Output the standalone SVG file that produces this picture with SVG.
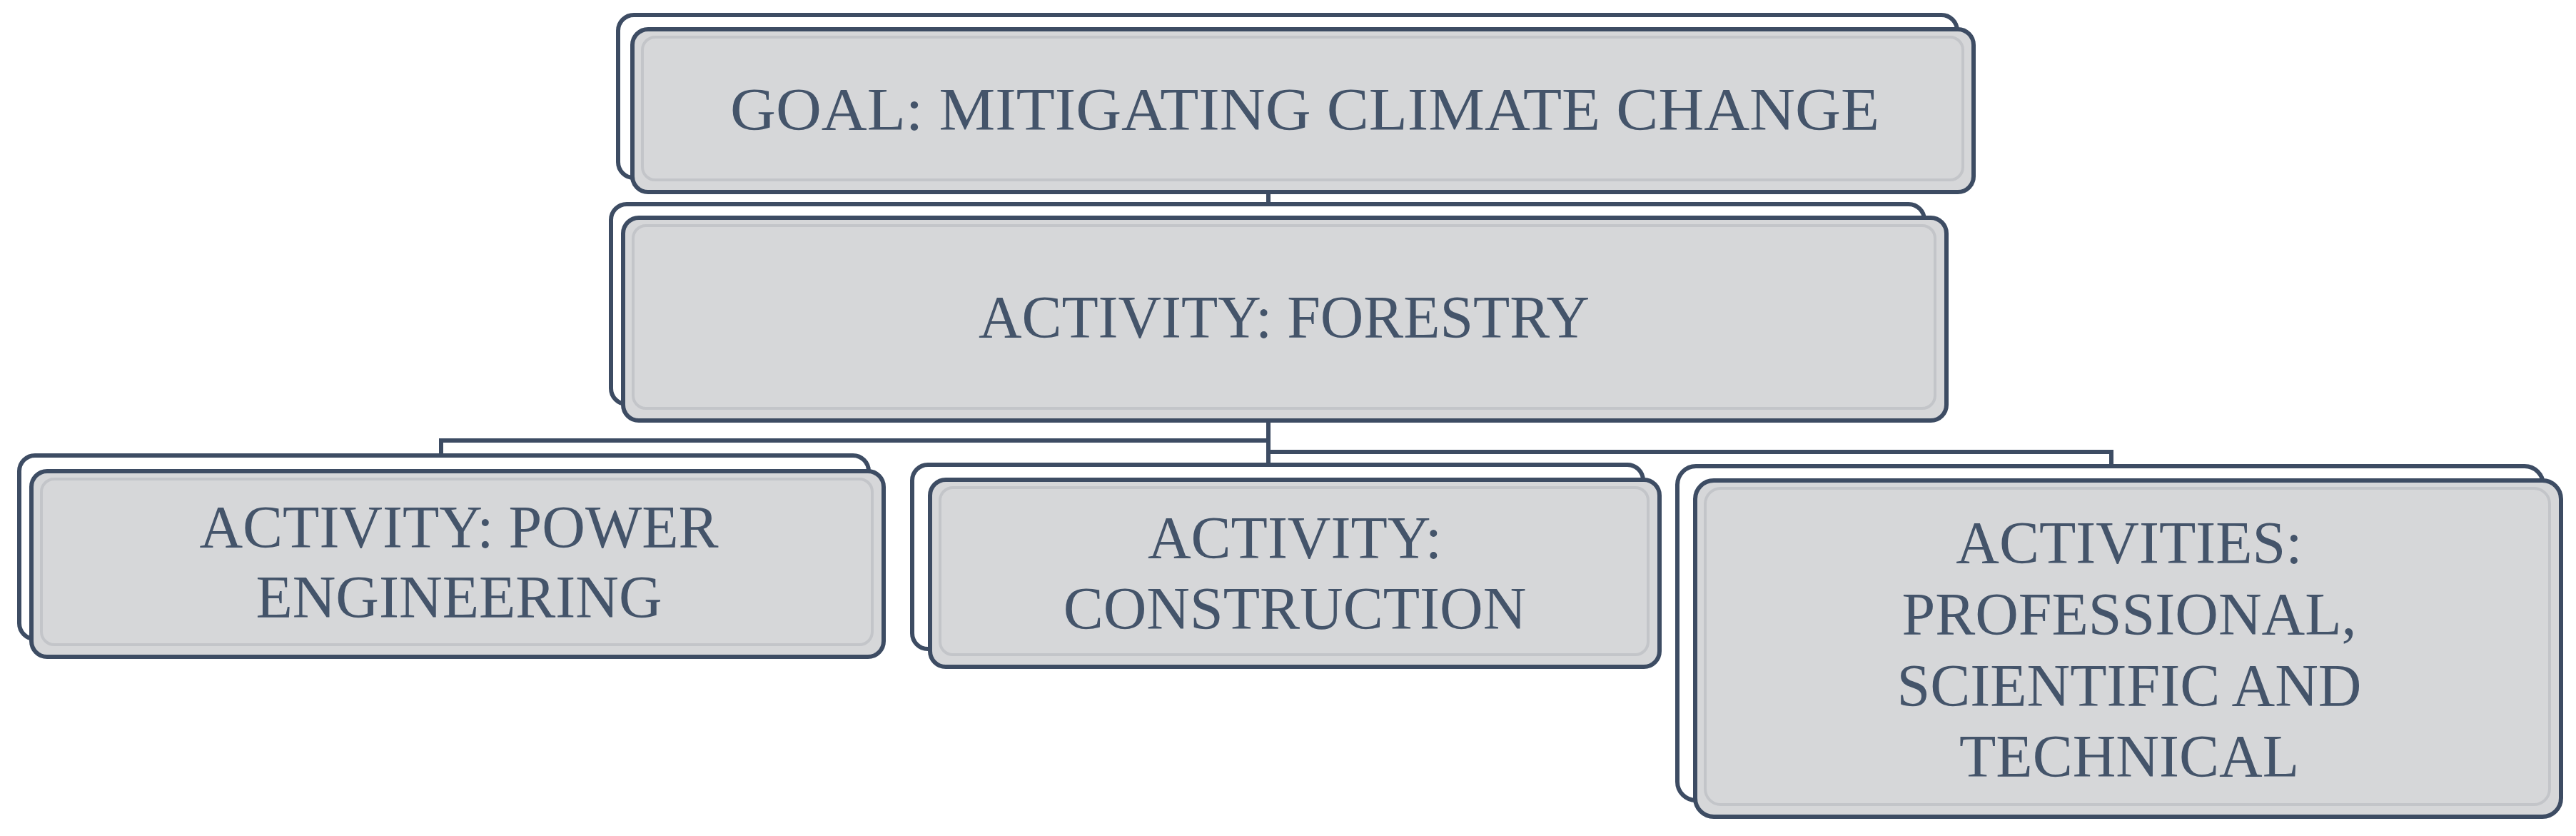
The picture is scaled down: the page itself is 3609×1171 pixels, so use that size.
<svg xmlns="http://www.w3.org/2000/svg" width="3609" height="1171" viewBox="0 0 3609 1171">
<style>
.b{fill:#fff;stroke:#3d4c63;stroke-width:6}
.f{fill:#d6d7d9;stroke:#3d4c63;stroke-width:6}
.i{fill:none;stroke:#c3c5c9;stroke-width:4}
.t{font-family:"Liberation Serif",serif;font-size:84px;fill:#44546a;text-anchor:middle}
.c{fill:none;stroke:#3d4c63;stroke-width:6}
</style>
<rect width="3609" height="1171" fill="#fff"/>
<g id="connectors">
<path class="c" d="M1777 271V304M1777 590V651M1777 617H618V640M1777 633H2958V655"/>
</g>
<g id="goal">
<rect class="b" x="866" y="21" width="1876" height="228" rx="22"/>
<rect class="f" x="886" y="41" width="1879" height="228" rx="22"/>
<rect class="i" x="900" y="52" width="1850" height="200" rx="18"/>
<text class="t" x="1828" y="182" textLength="1610" lengthAdjust="spacingAndGlyphs">GOAL: MITIGATING CLIMATE CHANGE</text>
</g>
<g id="forestry">
<rect class="b" x="856" y="286" width="1840" height="280" rx="22"/>
<rect class="f" x="873" y="305" width="1854" height="284" rx="22"/>
<rect class="i" x="887" y="316" width="1824" height="256" rx="18"/>
<text class="t" x="1799" y="473" textLength="856" lengthAdjust="spacingAndGlyphs">ACTIVITY: FORESTRY</text>
</g>
<g id="power">
<rect class="b" x="27" y="638" width="1190" height="257" rx="22"/>
<rect class="f" x="44" y="660" width="1194" height="260" rx="22"/>
<rect class="i" x="58" y="671" width="1164" height="232" rx="18"/>
<text class="t" x="643" y="767">ACTIVITY: POWER</text>
<text class="t" x="643" y="865">ENGINEERING</text>
</g>
<g id="construction">
<rect class="b" x="1278" y="651" width="1024" height="258" rx="22"/>
<rect class="f" x="1303" y="672" width="1022" height="262" rx="22"/>
<rect class="i" x="1317" y="683" width="992" height="234" rx="18"/>
<text class="t" x="1814" y="782">ACTIVITY:</text>
<text class="t" x="1814" y="881">CONSTRUCTION</text>
</g>
<g id="professional">
<rect class="b" x="2350" y="653" width="1213" height="468" rx="26"/>
<rect class="f" x="2375" y="673" width="1213" height="471" rx="26"/>
<rect class="i" x="2389" y="684" width="1183" height="443" rx="22"/>
<text class="t" x="2983" y="789">ACTIVITIES:</text>
<text class="t" x="2983" y="889">PROFESSIONAL,</text>
<text class="t" x="2983" y="989">SCIENTIFIC AND</text>
<text class="t" x="2983" y="1088">TECHNICAL</text>
</g>
</svg>
